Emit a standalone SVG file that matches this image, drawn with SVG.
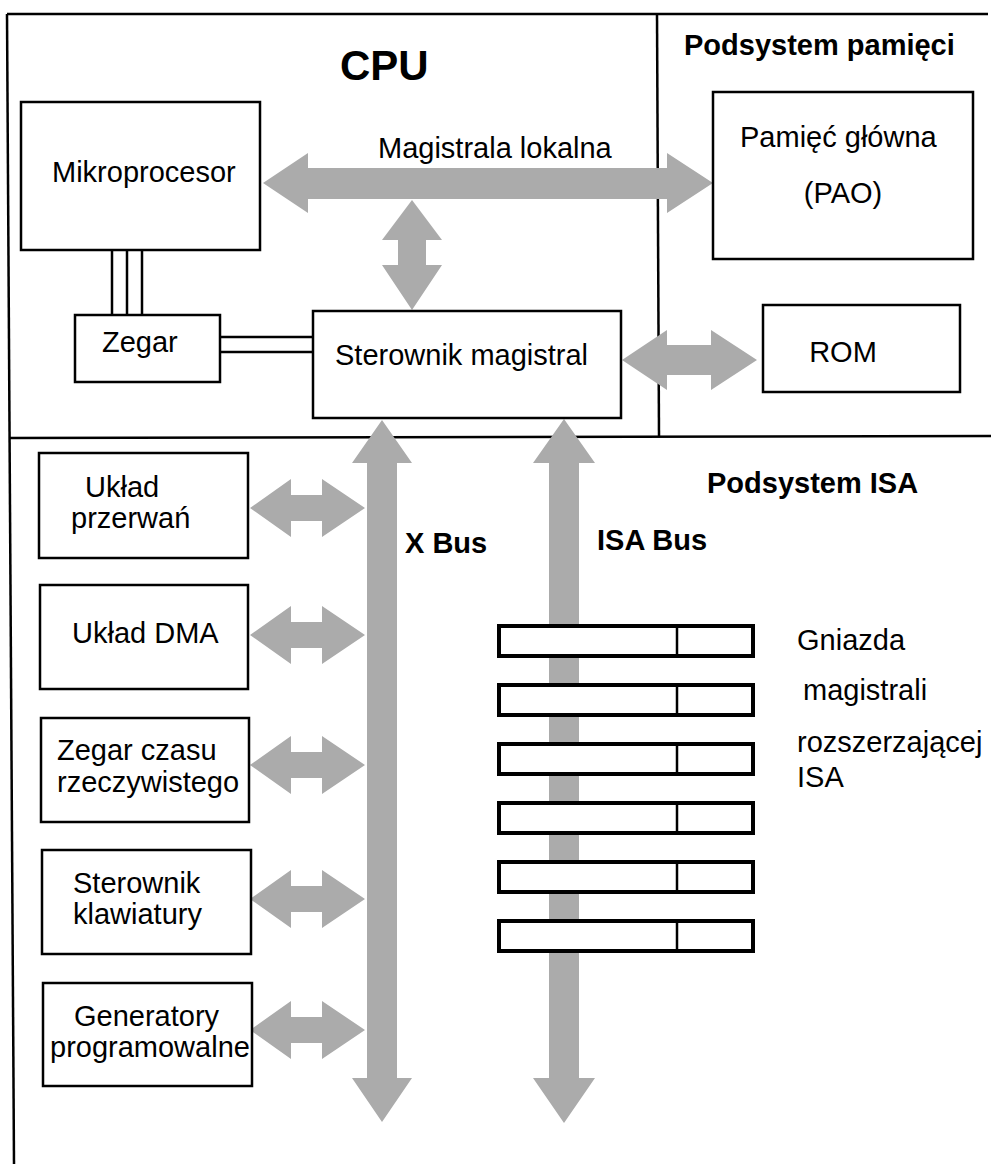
<svg xmlns="http://www.w3.org/2000/svg" width="991" height="1164" viewBox="0 0 991 1164">
<style>
text{font-family:"Liberation Sans",Arial,sans-serif;font-size:29px;fill:#000}
.b{font-weight:bold}
.box{fill:#fff;stroke:#000;stroke-width:2.5}
.slot{fill:#fff;stroke:#000;stroke-width:4}
.frame{stroke:#000;stroke-width:2.5;fill:none}
.arr{fill:#ababab}
.wire{stroke:#000;stroke-width:2.5;fill:none}
</style>
<g id="frame">
<line class="frame" x1="7" y1="14" x2="988" y2="14"/>
<line class="frame" x1="7" y1="14" x2="14" y2="1164"/>
<line class="frame" x1="657" y1="14" x2="659" y2="436"/>
<line class="frame" x1="9" y1="438" x2="991" y2="436"/>
<text class="b" x="340" y="80" style="font-size:42px">CPU</text>
<text class="b" x="684" y="55">Podsystem pamięci</text>
<text class="b" x="707" y="493">Podsystem ISA</text>
</g>
<g id="connectors">
<path class="arr" d="M263,183 L308,153 L308,168 L667,168 L667,153 L713,183 L667,213 L667,199 L308,199 L308,213 Z"/>
<text x="378" y="158">Magistrala lokalna</text>
<path class="arr" d="M412,200 L442,240 L426,240 L426,265 L442,265 L412,310 L382,265 L398,265 L398,240 L382,240 Z"/>
<path class="arr" d="M622,360 L667,330 L667,345 L711,345 L711,330 L757,360 L711,390 L711,375 L667,375 L667,390 Z"/>
<path class="arr" d="M382,420 L412,463 L397,463 L397,1078 L412,1078 L382,1122 L352,1078 L367,1078 L367,463 L352,463 Z"/>
<path class="arr" d="M564,419 L595,463 L579,463 L579,1078 L595,1078 L564,1123 L533,1078 L549,1078 L549,463 L533,463 Z"/>
<text class="b" x="405" y="553">X Bus</text>
<text class="b" x="597" y="550">ISA Bus</text>
<g id="sideArrows">
<path class="arr" d="M250,508 L291,479 L291,495 L322,495 L322,479 L365,508 L322,537 L322,521 L291,521 L291,537 Z"/>
<path class="arr" d="M250,635 L291,606 L291,622 L322,622 L322,606 L365,635 L322,664 L322,648 L291,648 L291,664 Z"/>
<path class="arr" d="M250,765 L291,736 L291,752 L322,752 L322,736 L365,765 L322,794 L322,778 L291,778 L291,794 Z"/>
<path class="arr" d="M250,899 L291,870 L291,886 L322,886 L322,870 L365,899 L322,928 L322,912 L291,912 L291,928 Z"/>
<path class="arr" d="M250,1030 L291,1001 L291,1017 L322,1017 L322,1001 L365,1030 L322,1059 L322,1043 L291,1043 L291,1059 Z"/>
</g>
<line class="wire" x1="112" y1="250" x2="112" y2="315"/>
<line class="wire" x1="127" y1="250" x2="127" y2="315"/>
<line class="wire" x1="142" y1="250" x2="142" y2="315"/>
<line class="wire" x1="220" y1="337" x2="313" y2="337"/>
<line class="wire" x1="220" y1="352" x2="313" y2="352"/>
</g>
<g id="mikroprocesor">
<rect class="box" x="21" y="102" width="239" height="148"/>
<text x="52" y="182">Mikroprocesor</text>
</g>
<g id="zegar">
<rect class="box" x="75" y="315" width="145" height="67"/>
<text x="102" y="352">Zegar</text>
</g>
<g id="sterownik-magistral">
<rect class="box" x="313" y="311" width="308" height="107"/>
<text x="335" y="365">Sterownik magistral</text>
</g>
<g id="pamiec-glowna">
<rect class="box" x="713" y="92" width="260" height="167"/>
<text x="740" y="147">Pamięć główna</text>
<text x="843" y="203" text-anchor="middle">(PAO)</text>
</g>
<g id="rom">
<rect class="box" x="763" y="305" width="197" height="87"/>
<text x="843" y="362" text-anchor="middle">ROM</text>
</g>
<g id="uklad-przerwan">
<rect class="box" x="39" y="453" width="209" height="105"/>
<text x="85" y="497">Układ</text>
<text x="71" y="528">przerwań</text>
</g>
<g id="uklad-dma">
<rect class="box" x="40" y="585" width="208" height="104"/>
<text x="72" y="643">Układ DMA</text>
</g>
<g id="zegar-rtc">
<rect class="box" x="41" y="718" width="208" height="104"/>
<text x="57" y="760">Zegar czasu</text>
<text x="57" y="792">rzeczywistego</text>
</g>
<g id="sterownik-klawiatury">
<rect class="box" x="42" y="850" width="209" height="104"/>
<text x="73" y="893">Sterownik</text>
<text x="73" y="924">klawiatury</text>
</g>
<g id="generatory">
<rect class="box" x="43" y="983" width="209" height="103"/>
<text x="74" y="1026">Generatory</text>
<text x="50" y="1057">programowalne</text>
</g>
<g id="gniazda-isa">
<rect class="slot" x="499" y="626" width="254" height="30"/><line class="wire" x1="677" y1="626" x2="677" y2="656"/>
<rect class="slot" x="499" y="685" width="254" height="30"/><line class="wire" x1="677" y1="685" x2="677" y2="715"/>
<rect class="slot" x="499" y="744" width="254" height="30"/><line class="wire" x1="677" y1="744" x2="677" y2="774"/>
<rect class="slot" x="499" y="803" width="254" height="30"/><line class="wire" x1="677" y1="803" x2="677" y2="833"/>
<rect class="slot" x="499" y="862" width="254" height="30"/><line class="wire" x1="677" y1="862" x2="677" y2="892"/>
<rect class="slot" x="499" y="921" width="254" height="30"/><line class="wire" x1="677" y1="921" x2="677" y2="951"/>
<text x="797" y="650">Gniazda</text>
<text x="803" y="700">magistrali</text>
<text x="797" y="752">rozszerzającej</text>
<text x="797" y="787">ISA</text>
</g>
</svg>
